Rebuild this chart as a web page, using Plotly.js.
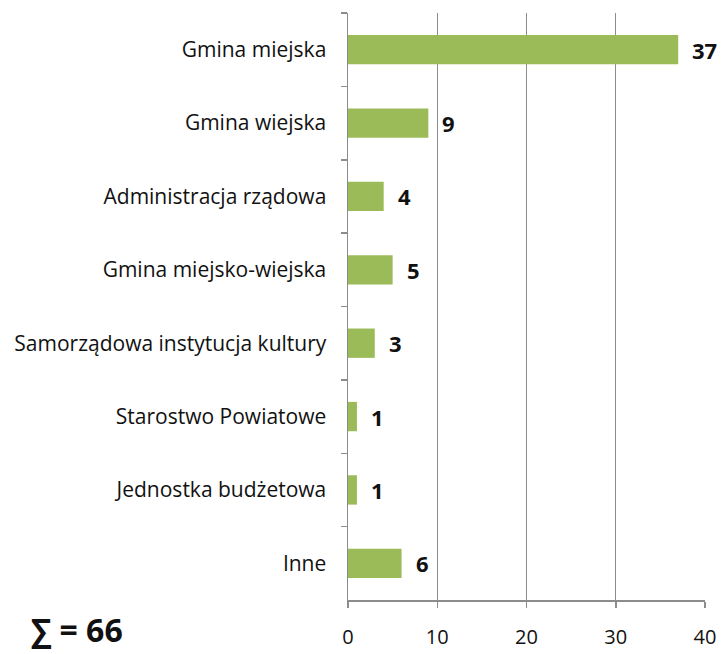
<!DOCTYPE html>
<html><head><meta charset="utf-8">
<script src="https://cdn.plot.ly/plotly-3.0.1.min.js"></script>
<style>html,body{margin:0;padding:0;background:#fff;}#chart{width:723px;height:654px;}</style>
</head><body><div id="chart"></div>
<script>
const categories = ["Gmina miejska","Gmina wiejska","Administracja rządowa","Gmina miejsko-wiejska","Samorządowa instytucja kultury","Starostwo Powiatowe","Jednostka budżetowa","Inne"];
const values = [37,9,4,5,3,1,1,6];
const xTicks = [0,10,20,30,40];
const totalLabel = "∑ = 66";

const FONT = "'Open Sans', 'Noto Sans', sans-serif";
const trace = {
  type: "bar", orientation: "h",
  x: values, y: categories,
  marker: {color: "#9BBB59", line: {width: 0}},
  hoverinfo: "skip"
};
const annotations = values.map((v, i) => ({
  x: v, y: categories[i], xref: "x", yref: "y",
  text: "<b>" + v + "</b>", showarrow: false, xanchor: "left", xshift: 12,
  font: {family: FONT, size: 22, color: "#111"}
}));
annotations.push({
  xref: "paper", yref: "paper", x: -0.893, y: -0.05, xanchor: "left", yanchor: "middle",
  text: "<b>" + totalLabel + "</b>", showarrow: false,
  font: {family: FONT, size: 32, color: "#111"}
});
const layout = {
  width: 723, height: 654,
  margin: {l: 348, r: 18, t: 13, b: 54, pad: 0},
  paper_bgcolor: "#fff", plot_bgcolor: "#fff",
  showlegend: false,
  bargap: 0.6,
  font: {family: FONT, size: 19, color: "#111"},
  xaxis: {
    range: [0, 40], tickvals: xTicks, ticktext: xTicks.map(String),
    showgrid: true, gridcolor: "#8c8c8c", gridwidth: 1,
    zeroline: false, showline: true, linecolor: "#8c8c8c", linewidth: 1.5,
    ticks: "outside", ticklen: 6, tickcolor: "#8c8c8c", tickwidth: 1.5,
    ticklabelstandoff: 12,
    tickfont: {family: FONT, size: 20, color: "#111"}
  },
  yaxis: {
    type: "category", autorange: "reversed",
    showgrid: false, zeroline: false, showline: true, linecolor: "#8c8c8c", linewidth: 1.5,
    ticks: "outside", tickson: "boundaries", ticklen: 6, tickcolor: "#8c8c8c", tickwidth: 1.5,
    ticklabelstandoff: 16,
    tickfont: {family: FONT, size: 21, color: "#111"}
  },
  annotations: annotations
};
Plotly.newPlot("chart", [trace], layout, {displayModeBar: false, staticPlot: true});
</script></body></html>
